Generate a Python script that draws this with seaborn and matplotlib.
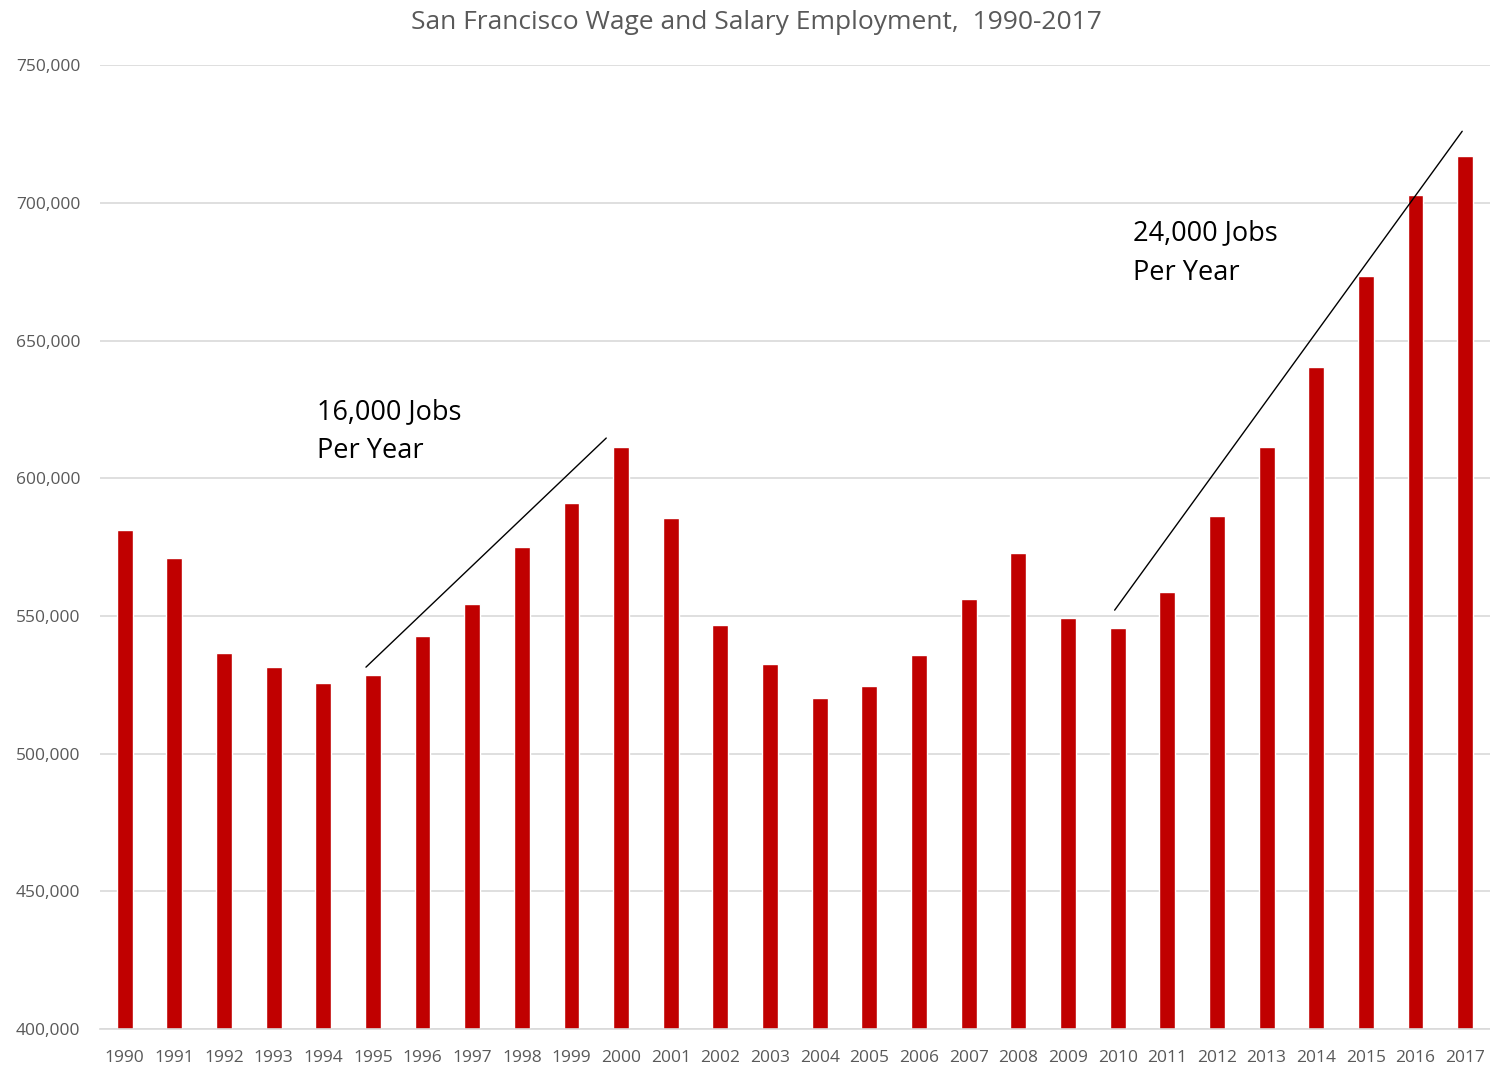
"""
San Francisco wage and salary employment, 1990-2017 — bar chart with trend lines.
"""

import matplotlib
matplotlib.use("Agg")
import matplotlib.pyplot as plt
import matplotlib.ticker as mticker
import pandas as pd
import seaborn as sns

years = list(range(1990, 2018))
jobs = [581200, 571000, 536500, 531400, 525600, 528500, 542700, 554300,
        575000, 591000, 611300, 585500, 546700, 532500, 520200, 524500,
        535800, 556100, 572800, 549200, 545600, 558700, 586300, 611300,
        640400, 673400, 702800, 717000]

# trend lines (x in bar index, y in jobs)
trend1_x = [4.86, 9.7]
trend1_y = [531400, 614600]
trend2_x = [19.94, 26.94]
trend2_y = [552100, 726000]
label1 = "16,000 Jobs\nPer Year"
label2 = "24,000 Jobs\nPer Year"

RED = "#C00000"
GREY = "#595959"

sns.set_theme(style="whitegrid")
plt.rcParams["font.family"] = ["Open Sans", "DejaVu Sans"]

df = pd.DataFrame({"year": [str(y) for y in years], "jobs": jobs})

fig = plt.figure(figsize=(14.9, 10.65), dpi=100)
ax = fig.add_axes([0.067, 0.0338, 0.933, 0.905])

sns.barplot(data=df, x="year", y="jobs", color=RED, width=0.32,
            saturation=1, ax=ax)

ax.set_ylim(400000, 750000)
ax.set_xlim(-0.5, 27.5)
ax.yaxis.set_major_locator(mticker.MultipleLocator(50000))
ax.yaxis.set_major_formatter(mticker.StrMethodFormatter("{x:,.0f}"))
ax.grid(axis="y", color="#d9d9d9", lw=1.2)
ax.grid(axis="x", visible=False)
ax.set_axisbelow(True)
for s in ["top", "left", "right"]:
    ax.spines[s].set_visible(False)
ax.spines["bottom"].set_color("#d9d9d9")
ax.spines["bottom"].set_linewidth(1.2)
ax.set_xlabel("")
ax.set_ylabel("")
ax.tick_params(axis="both", colors=GREY, labelsize=12.5, length=0)
ax.tick_params(axis="x", pad=15)
ax.tick_params(axis="y", pad=14)

ax.plot(trend1_x, trend1_y, color="black", lw=1)
ax.plot(trend2_x, trend2_y, color="black", lw=1)

ax.text(3.87, 629200, label1, fontsize=19.5, color="black",
        va="top", linespacing=1.55)
ax.text(20.3, 694000, label2, fontsize=19.5, color="black",
        va="top", linespacing=1.55)

fig.text(0.508, 0.979, "San Francisco Wage and Salary Employment,  1990-2017",
         ha="center", va="center", fontsize=19, color=GREY)

fig.savefig("out.png", dpi=100)
